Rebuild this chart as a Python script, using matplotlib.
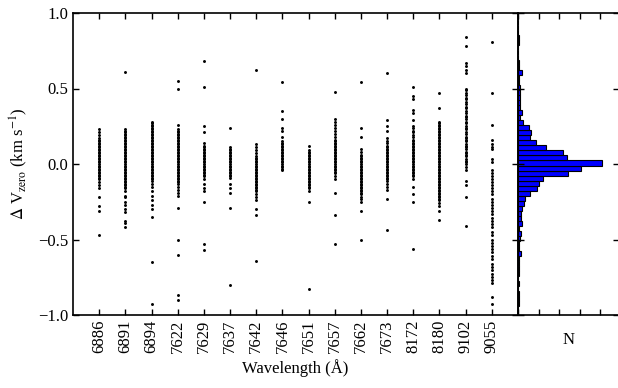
import matplotlib
matplotlib.use("Agg")
import matplotlib.pyplot as plt
import numpy as np

plt.rcParams['font.family'] = ['Liberation Serif', 'DejaVu Serif']
plt.rcParams['mathtext.fontset'] = 'stix'
plt.rcParams['font.size'] = 12

# wavelength categories (tick labels)
wavelengths = ['6886', '6891', '6894', '7622', '7629', '7637', '7642', '7646',
               '7651', '7657', '7662', '7673', '8172', '8180', '9102', '9055']

v6886 = [0.23, 0.21, 0.19, 0.17, 0.16, 0.15, 0.14, 0.13, 0.12, 0.11, 0.10, 0.09,
         0.08, 0.07, 0.06, 0.05, 0.04, 0.03, 0.02, 0.01, 0.00, -0.01, -0.02, -0.03,
         -0.04, -0.05, -0.06, -0.07, -0.08, -0.09, -0.10, -0.12, -0.14, -0.16,
         -0.22, -0.28, -0.31, -0.47]
v6891 = [0.61, 0.23, 0.22, 0.21, 0.20, 0.19, 0.18, 0.17, 0.16, 0.15, 0.14, 0.13,
         0.12, 0.11, 0.10, 0.09, 0.08, 0.07, 0.06, 0.05, 0.04, 0.03, 0.02, 0.01,
         0.00, -0.01, -0.02, -0.03, -0.04, -0.05, -0.06, -0.07, -0.08, -0.09, -0.10,
         -0.11, -0.12, -0.13, -0.14, -0.15, -0.16, -0.18, -0.21, -0.22, -0.25,
         -0.27, -0.30, -0.32, -0.38, -0.39, -0.42]
v6894 = [0.28, 0.27, 0.26, 0.25, 0.24, 0.23, 0.22, 0.21, 0.20, 0.19, 0.18, 0.17,
         0.16, 0.15, 0.14, 0.13, 0.12, 0.11, 0.10, 0.09, 0.08, 0.07, 0.06, 0.05,
         0.04, 0.03, 0.02, 0.01, 0.00, -0.01, -0.02, -0.03, -0.04, -0.05, -0.06,
         -0.07, -0.08, -0.09, -0.10, -0.11, -0.13, -0.15, -0.18, -0.21, -0.24,
         -0.27, -0.30, -0.35, -0.65, -0.93]
v7622 = [0.55, 0.50, 0.26, 0.23, 0.22, 0.21, 0.20, 0.19, 0.18, 0.17, 0.16, 0.15,
         0.14, 0.13, 0.12, 0.11, 0.10, 0.09, 0.08, 0.07, 0.06, 0.05, 0.04, 0.03,
         0.02, 0.01, 0.00, -0.01, -0.02, -0.03, -0.04, -0.05, -0.06, -0.07, -0.08,
         -0.09, -0.10, -0.11, -0.12, -0.13, -0.15, -0.17, -0.19, -0.21, -0.29,
         -0.50, -0.60, -0.87, -0.90]
v7629 = [0.68, 0.51, 0.25, 0.21, 0.14, 0.12, 0.11, 0.10, 0.09, 0.08, 0.07, 0.06,
         0.05, 0.04, 0.03, 0.02, 0.01, 0.00, -0.01, -0.02, -0.03, -0.04, -0.05,
         -0.06, -0.07, -0.08, -0.10, -0.13, -0.16, -0.18, -0.25, -0.53, -0.57]
v7637 = [0.24, 0.11, 0.10, 0.09, 0.08, 0.07, 0.06, 0.05, 0.04, 0.03, 0.02, 0.01,
         0.00, -0.01, -0.02, -0.03, -0.04, -0.05, -0.06, -0.07, -0.08, -0.09,
         -0.13, -0.16, -0.19, -0.29, -0.80]
v7642 = [0.62, 0.13, 0.11, 0.09, 0.07, 0.05, 0.04, 0.03, 0.02, 0.01, 0.00, -0.01,
         -0.02, -0.03, -0.04, -0.05, -0.06, -0.07, -0.08, -0.09, -0.10, -0.11,
         -0.12, -0.13, -0.14, -0.15, -0.16, -0.17, -0.18, -0.20, -0.22, -0.24,
         -0.30, -0.34, -0.64]
v7646 = [0.54, 0.35, 0.30, 0.24, 0.22, 0.18, 0.15, 0.14, 0.13, 0.12, 0.11, 0.10,
         0.09, 0.08, 0.07, 0.06, 0.05, 0.04, 0.03, 0.02, 0.01, 0.00, -0.01, -0.02,
         -0.03, -0.04]
v7651 = [0.12, 0.09, 0.08, 0.07, 0.06, 0.05, 0.04, 0.03, 0.02, 0.01, 0.00, -0.01,
         -0.02, -0.03, -0.04, -0.05, -0.06, -0.07, -0.08, -0.09, -0.10, -0.11,
         -0.12, -0.13, -0.14, -0.15, -0.16, -0.18, -0.25, -0.83]
v7657 = [0.48, 0.30, 0.28, 0.26, 0.24, 0.22, 0.20, 0.18, 0.16, 0.15, 0.14, 0.13,
         0.12, 0.11, 0.10, 0.09, 0.08, 0.07, 0.06, 0.05, 0.04, 0.03, 0.02, 0.01,
         0.00, -0.01, -0.02, -0.03, -0.04, -0.05, -0.06, -0.08, -0.10, -0.19,
         -0.34, -0.53]
v7662 = [0.54, 0.24, 0.18, 0.10, 0.08, 0.06, 0.05, 0.04, 0.03, 0.02, 0.01, 0.00,
         -0.01, -0.02, -0.03, -0.04, -0.05, -0.06, -0.07, -0.08, -0.09, -0.10,
         -0.11, -0.12, -0.13, -0.14, -0.15, -0.16, -0.17, -0.18, -0.19, -0.20,
         -0.22, -0.23, -0.25, -0.31, -0.50]
v7673 = [0.60, 0.29, 0.25, 0.22, 0.17, 0.15, 0.14, 0.12, 0.11, 0.10, 0.09, 0.08,
         0.07, 0.06, 0.05, 0.04, 0.03, 0.02, 0.01, 0.00, -0.01, -0.02, -0.03, -0.04,
         -0.05, -0.06, -0.07, -0.08, -0.09, -0.10, -0.11, -0.13, -0.15, -0.17,
         -0.23, -0.44]
v8172 = [0.51, 0.45, 0.43, 0.36, 0.34, 0.29, 0.25, 0.24, 0.22, 0.21, 0.19, 0.18,
         0.16, 0.15, 0.14, 0.13, 0.12, 0.11, 0.10, 0.09, 0.08, 0.07, 0.06, 0.05,
         0.04, 0.03, 0.02, 0.01, 0.00, -0.01, -0.02, -0.03, -0.04, -0.05, -0.06,
         -0.07, -0.08, -0.10, -0.15, -0.20, -0.25, -0.56]
v8180 = [0.47, 0.37, 0.28, 0.27, 0.26, 0.25, 0.24, 0.23, 0.22, 0.21, 0.20, 0.19,
         0.18, 0.17, 0.16, 0.15, 0.14, 0.13, 0.12, 0.11, 0.10, 0.09, 0.08, 0.07,
         0.06, 0.05, 0.04, 0.03, 0.02, 0.01, 0.00, -0.01, -0.02, -0.03, -0.04,
         -0.05, -0.06, -0.07, -0.08, -0.09, -0.10, -0.11, -0.12, -0.13, -0.14,
         -0.15, -0.16, -0.17, -0.18, -0.19, -0.20, -0.21, -0.22, -0.23, -0.24,
         -0.26, -0.28, -0.31, -0.37]
v9102 = [0.84, 0.78, 0.67, 0.65, 0.62, 0.60, 0.50, 0.49, 0.47, 0.46, 0.44, 0.43,
         0.41, 0.40, 0.38, 0.37, 0.35, 0.34, 0.32, 0.31, 0.30, 0.28, 0.27, 0.25,
         0.24, 0.23, 0.21, 0.20, 0.18, 0.17, 0.16, 0.15, 0.13, 0.12, 0.11, 0.10,
         0.08, 0.07, 0.06, 0.05, 0.03, 0.02, 0.01, 0.00, -0.02, -0.04, -0.11,
         -0.14, -0.22, -0.41]
v9055 = [0.81, 0.47, 0.26, 0.16, 0.13, 0.11, 0.10, 0.03, 0.01, -0.04, -0.06, -0.08,
         -0.10, -0.12, -0.14, -0.16, -0.18, -0.20, -0.23, -0.25, -0.27, -0.29,
         -0.31, -0.33, -0.36, -0.38, -0.40, -0.42, -0.45, -0.47, -0.50, -0.52,
         -0.54, -0.56, -0.58, -0.61, -0.63, -0.66, -0.68, -0.70, -0.73, -0.75,
         -0.77, -0.79, -0.88, -0.93]

columns = [v6886, v6891, v6894, v7622, v7629, v7637, v7642, v7646,
           v7651, v7657, v7662, v7673, v8172, v8180, v9102, v9055]

# histogram of all offsets (counts per bin, bottom to top)
hist_edges = np.linspace(-1.01, 0.99, 61)
hist_counts = [0, 0, 2, 2, 2, 1, 2, 1, 2, 2, 2, 2, 8, 2, 2, 4, 7, 3, 9, 7,
               7, 10, 14, 16, 28, 47, 51, 61, 121, 153,
               203, 118, 110, 67, 44, 28, 32, 27, 11, 6, 9, 6, 5, 5, 6, 4, 3, 2, 9, 2,
               2, 1, 1, 1, 2, 2, 1, 0, 0, 0]

fig = plt.figure(figsize=(6.18, 3.88), dpi=100)
ax = fig.add_axes([73 / 618, 1 - 315 / 388, 445 / 618, 302 / 388])
axh = fig.add_axes([518 / 618, 1 - 315 / 388, 101 / 618, 302 / 388])

for i, vals in enumerate(columns):
    ax.scatter(np.full(len(vals), i + 1), vals, s=4.5, color='black', linewidths=0)

ax.set_xlim(0, 17)
ax.set_ylim(-1, 1)
ax.set_xticks(range(1, 17))
ax.set_xticklabels(wavelengths, rotation=90)
ax.set_yticks([-1.0, -0.5, 0.0, 0.5, 1.0])
ax.tick_params(direction='in', top=True, right=True, length=4.5, width=1)
ax.set_xlabel('Wavelength (Å)')
ax.set_ylabel(r'$\Delta$ V$_{\mathrm{zero}}$ (km s$^{-1}$)', labelpad=6)
for sp in ax.spines.values():
    sp.set_linewidth(1.2)

centers = (hist_edges[:-1] + hist_edges[1:]) / 2
axh.barh(centers, hist_counts, height=hist_edges[1] - hist_edges[0],
         color='blue', edgecolor='black', linewidth=0.8)
axh.set_ylim(-1, 1)
axh.set_xlim(0, 245)
axh.set_xticks([0, 50, 100, 150, 200])
axh.set_yticks([-1.0, -0.5, 0.0, 0.5, 1.0])
axh.tick_params(direction='in', top=True, right=True, length=4.5, width=1,
                labelbottom=False, labelleft=False)
axh.set_xlabel('N', labelpad=12)
for sp in axh.spines.values():
    sp.set_linewidth(1.2)

fig.savefig('out.png', dpi=100)
